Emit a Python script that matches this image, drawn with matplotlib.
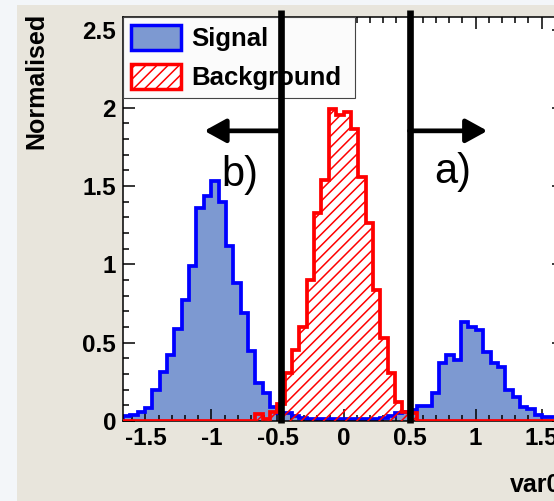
import numpy as np
import matplotlib
matplotlib.use("Agg")
import matplotlib.pyplot as plt
from matplotlib.patches import Patch, Rectangle
from matplotlib.ticker import MultipleLocator, FuncFormatter

plt.rcParams["font.family"] = ["Liberation Sans", "DejaVu Sans"]
plt.rcParams["font.weight"] = "bold"
plt.rcParams["axes.unicode_minus"] = False
plt.rcParams["hatch.linewidth"] = 1.1

# Histogram binning
x_min, x_max, n_bins = -1.67, 1.67, 60

# Normalised bin contents, one entry per bin from left to right
signal = [
    0.03, 0.04, 0.06, 0.08, 0.20, 0.31, 0.42, 0.59, 0.77, 0.99,
    1.36, 1.44, 1.535, 1.40, 1.12, 0.88, 0.69, 0.45, 0.24, 0.18,
    0.09, 0.05, 0.05, 0.03, 0.02, 0.015, 0.01, 0.01, 0.01, 0.01,
    0.01, 0.01, 0.01, 0.01, 0.015, 0.02, 0.03, 0.05, 0.06, 0.07,
    0.096, 0.096, 0.177, 0.369, 0.422, 0.39, 0.635, 0.603, 0.581, 0.443,
    0.369, 0.347, 0.198, 0.155, 0.087, 0.075, 0.038, 0.028, 0.028, 0.028,
]
background = [
    0.0, 0.0, 0.0, 0.0, 0.0, 0.0, 0.0, 0.0, 0.0, 0.0,
    0.0, 0.0, 0.0, 0.0, 0.0, 0.0, 0.0, 0.0, 0.045, 0.01,
    0.06, 0.11, 0.305, 0.454, 0.603, 0.90, 1.327, 1.54, 1.99, 1.955,
    1.976, 1.864, 1.557, 1.263, 0.837, 0.528, 0.305, 0.12, 0.06, 0.05,
    0.0, 0.0, 0.0, 0.0, 0.0, 0.0, 0.0, 0.0, 0.0, 0.0,
    0.0, 0.0, 0.0, 0.0, 0.0, 0.0, 0.0, 0.0, 0.0, 0.0,
]
legend_labels = ["Signal", "Background"]

# Selection cuts and their annotations
cut_b, cut_a = -0.47, 0.50
arrow_y = 1.853
arrow_tip_b, arrow_tip_a = -1.054, 1.09

edges = np.linspace(x_min, x_max, n_bins + 1)

W, H = 554, 501
fig = plt.figure(figsize=(W / 100, H / 100), dpi=100)
fig.patch.set_facecolor("#f3f6f9")
fig.patches.append(Rectangle((17 / W, 0), 1, 1 - 5 / H, transform=fig.transFigure,
                             facecolor="#e8e5dc", edgecolor="none", zorder=-10))

ax = fig.add_axes([123 / W, 1 - 421 / H, 441 / W, 404 / H])
ax.set_facecolor("white")
ax.set_xlim(x_min, x_max)
ax.set_ylim(0, 2.58)

sig_fill = "#7d99d1"
ax.stairs(signal, edges, fill=True, color=sig_fill, zorder=1)
ax.stairs(signal, edges, color="blue", lw=2.7, zorder=2)
ax.stairs(background, edges, fill=True, facecolor="none", edgecolor="red",
          hatch="///", linewidth=0, zorder=3)
ax.stairs(background, edges, color="red", lw=2.7, zorder=4)

# Axis styling
for sp in ax.spines.values():
    sp.set_linewidth(1.1)
ax.xaxis.set_major_locator(MultipleLocator(0.5))
ax.xaxis.set_minor_locator(MultipleLocator(0.1))
ax.yaxis.set_major_locator(MultipleLocator(0.5))
ax.yaxis.set_minor_locator(MultipleLocator(0.1))


def fmt(v, _):
    s = f"{round(v, 3):g}"
    return "0" if s == "-0" else s


ax.xaxis.set_major_formatter(FuncFormatter(fmt))
ax.yaxis.set_major_formatter(FuncFormatter(fmt))
ax.tick_params(which="both", direction="in", top=True, right=True, width=1.1, colors="black")
ax.tick_params(which="major", length=8.6)
ax.tick_params(which="minor", length=4.3)
ax.tick_params(axis="y", labelsize=17.5, pad=5.0)
ax.tick_params(axis="x", labelsize=17.5, pad=4.5)

# Legend
handles = [
    Patch(facecolor=sig_fill, edgecolor="blue", lw=2.5, label=legend_labels[0]),
    Patch(facecolor="white", edgecolor="red", hatch="///", lw=2.5, label=legend_labels[1]),
]
leg = ax.legend(handles=handles, loc="upper left", bbox_to_anchor=(0, 0.802, 0.526, 0.198),
                mode="expand", borderaxespad=0, fancybox=False, framealpha=1,
                facecolor="#fbfbfb", edgecolor="#444444",
                prop={"size": 18.5, "weight": "bold"}, handlelength=1.95, handleheight=1.13,
                handletextpad=0.4, labelspacing=0.5, borderpad=0.3)
leg.get_frame().set_linewidth(0.8)
leg.set_zorder(5)

# Cut lines with direction arrows
for c in (cut_b, cut_a):
    ax.axvline(c, ymin=-0.005, ymax=(421 - 10) / 404, color="black", lw=4.8,
               clip_on=False, zorder=6, solid_capstyle="butt")
arrow_props = dict(arrowstyle="-|>,head_length=1.0,head_width=0.55", mutation_scale=13,
                   lw=3.4, color="black", shrinkA=0, shrinkB=0)
ax.annotate("", xy=(arrow_tip_b, arrow_y), xytext=(cut_b, arrow_y), arrowprops=arrow_props, zorder=6)
ax.annotate("", xy=(arrow_tip_a, arrow_y), xytext=(cut_a, arrow_y), arrowprops=arrow_props, zorder=6)
ax.text(-0.924, 1.50, "b)", fontsize=30, fontweight="normal", ha="left", va="baseline", zorder=6)
ax.text(0.689, 1.52, "a)", fontsize=30, fontweight="normal", ha="left", va="baseline", zorder=6)

# Axis titles
fig.text(36 / W, 1 - 13 / H, "Normalised", rotation=90, ha="center", va="top",
         fontsize=18, fontweight="bold")
fig.text(510 / W, 1 - 491.7 / H, "var0", ha="left", va="baseline",
         fontsize=18, fontweight="bold")

fig.savefig("out.png", dpi=100)
